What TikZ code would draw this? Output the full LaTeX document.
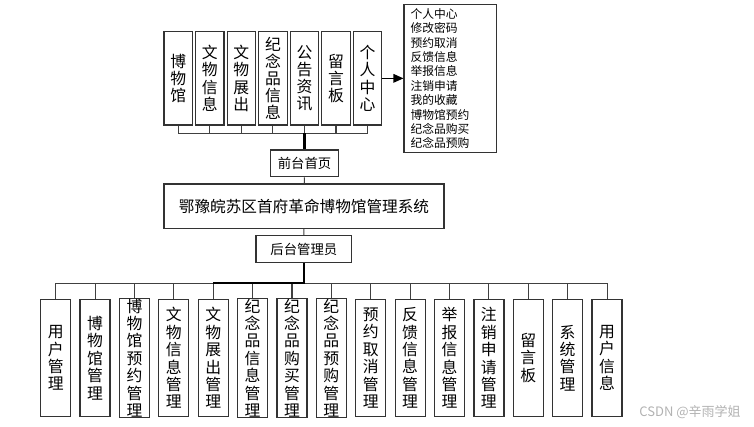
\documentclass[tikz,border=0pt]{standalone}
\usepackage{fontspec}
\setmainfont{Noto Sans CJK SC}
\usetikzlibrary{arrows.meta}

\begin{document}
\begin{tikzpicture}
    \tikzstyle{topbox} = [rectangle, draw=black!80, line width=0.7pt, inner sep=0pt,
        minimum width=0.57cm, minimum height=1.867cm, align=center,
        node distance=0.6307cm, font=\fontsize{9}{9.8}\selectfont]
    \tikzstyle{subbox} = [rectangle, draw=black!80, line width=0.7pt, inner sep=0pt,
        minimum width=0.6cm, minimum height=2.348cm, align=center,
        node distance=0.7876cm, font=\fontsize{9}{9.9}\selectfont]
    \tikzstyle{rolebox} = [rectangle, draw=black!80, line width=0.7pt,
        minimum height=0.533cm, font=\fontsize{7.6}{9}\selectfont]
    \tikzstyle{sysbox} = [rectangle, draw=black!80, line width=0.7pt,
        minimum width=5.6cm, minimum height=0.887cm, font=\fontsize{8.9}{11}\selectfont]
    \tikzstyle{listbox} = [rectangle, draw=black!80, line width=0.7pt, inner xsep=0.13cm,
        inner ysep=0pt, text width=1.59cm, minimum height=2.96cm, align=left,
        font=\fontsize{6.7}{8.2}\selectfont]
    \tikzstyle{line} = [black!75, line width=0.6pt]
    \tikzstyle{trunk} = [black, line width=1.2pt]
    \tikzstyle{arrow} = [black, line width=0.8pt, -{Triangle[length=0.2cm, width=0.17cm]}]

    \useasboundingbox (0,0) rectangle (15.08,-8.52);

    % Front end
    \node (t1) [topbox] at (3.566,-1.567) {博\\物\\馆};
    \node (t2) [topbox, right of=t1] {文\\物\\信\\息};
    \node (t3) [topbox, right of=t2] {文\\物\\展\\出};
    \node (t4) [topbox, right of=t3] {纪\\念\\品\\信\\息};
    \node (t5) [topbox, right of=t4] {公\\告\\资\\讯};
    \node (t6) [topbox, right of=t5] {留\\言\\板};
    \node (t7) [topbox, right of=t6] {个\\人\\中\\心};

    \node (list) [listbox] at (9.007,-1.573)
        {个人中心\\修改密码\\预约取消\\反馈信息\\举报信息\\注销申请\\我的收藏\\博物馆预约\\纪念品购买\\纪念品预购};

    \node (front) [rolebox, minimum width=1.352cm] at (6.09,-3.267) {前台首页};
    \node (sys) [sysbox] at (6.08,-4.123) {鄂豫皖苏区首府革命博物馆管理系统};
    \node (admin) [rolebox, minimum width=1.913cm] at (6.077,-4.98) {后台管理员};

    % Back end
    \node (b1) [subbox] at (1.114,-7.16) {用\\户\\管\\理};
    \node (b2) [subbox, right of=b1] {博\\物\\馆\\管\\理};
    \node (b3) [subbox, right of=b2] {博\\物\\馆\\预\\约\\管\\理};
    \node (b4) [subbox, right of=b3] {文\\物\\信\\息\\管\\理};
    \node (b5) [subbox, right of=b4] {文\\物\\展\\出\\管\\理};
    \node (b6) [subbox, right of=b5] {纪\\念\\品\\信\\息\\管\\理};
    \node (b7) [subbox, right of=b6] {纪\\念\\品\\购\\买\\管\\理};
    \node (b8) [subbox, right of=b7] {纪\\念\\品\\预\\购\\管\\理};
    \node (b9) [subbox, right of=b8] {预\\约\\取\\消\\管\\理};
    \node (b10) [subbox, right of=b9] {反\\馈\\信\\息\\管\\理};
    \node (b11) [subbox, right of=b10] {举\\报\\信\\息\\管\\理};
    \node (b12) [subbox, right of=b11] {注\\销\\申\\请\\管\\理};
    \node (b13) [subbox, right of=b12] {留\\言\\板};
    \node (b14) [subbox, right of=b13] {系\\统\\管\\理};
    \node (b15) [subbox, right of=b14] {用\\户\\信\\息};

    \coordinate (topbus) at (0,-2.667);
    \coordinate (botbus) at (0,-5.667);

    % Top tree
    \draw [line] (t1.south |- topbus) -- (t7.south |- topbus);
    \draw [line] (t1.south) -- (t1.south |- topbus) (t2.south) -- (t2.south |- topbus)
        (t3.south) -- (t3.south |- topbus) (t4.south) -- (t4.south |- topbus)
        (t5.south) -- (t5.south |- topbus) (t6.south) -- (t6.south |- topbus)
        (t7.south) -- (t7.south |- topbus);
    \draw [trunk] (front.north) -- (front.north |- topbus);
    \draw [arrow] (t7.east) -- (t7.east -| list.west);

    \draw [line] (front) -- (sys);
    \draw [line] (sys) -- (admin);

    % Bottom tree
    \draw [line] (b1.north |- botbus) -- (b15.north |- botbus);
    \draw [line] (b1.north) -- (b1.north |- botbus) (b2.north) -- (b2.north |- botbus)
        (b3.north) -- (b3.north |- botbus) (b4.north) -- (b4.north |- botbus)
        (b5.north) -- (b5.north |- botbus) (b6.north) -- (b6.north |- botbus)
        (b7.north) -- (b7.north |- botbus) (b8.north) -- (b8.north |- botbus)
        (b9.north) -- (b9.north |- botbus) (b10.north) -- (b10.north |- botbus)
        (b11.north) -- (b11.north |- botbus) (b12.north) -- (b12.north |- botbus)
        (b13.north) -- (b13.north |- botbus) (b14.north) -- (b14.north |- botbus)
        (b15.north) -- (b15.north |- botbus);
    \draw [trunk] (admin.south) |- (b5.north |- botbus);

    \node (mark) [text=black!30, font=\fontsize{7.4}{9}\selectfont] at (13.8,-8.24) {CSDN @辛雨学姐};
\end{tikzpicture}
\end{document}
